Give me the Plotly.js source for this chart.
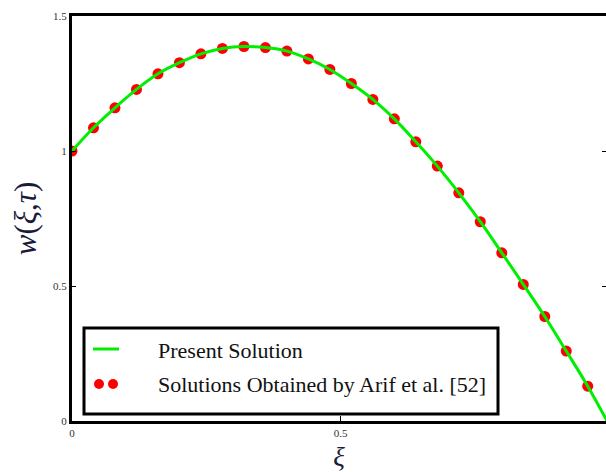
<!DOCTYPE html>
<html>
<head>
<meta charset="utf-8">
<script src="https://cdn.plot.ly/plotly-3.0.1.min.js"></script>
<style>html,body{margin:0;padding:0;background:#fff;}#chart{width:606px;height:472px;}</style>
</head>
<body>
<div id="chart"></div>
<script>
// Data
var pointX = [0, 0.04, 0.08, 0.12, 0.16, 0.20, 0.24, 0.28, 0.32, 0.36, 0.40, 0.44, 0.48, 0.52, 0.56, 0.60, 0.64, 0.68, 0.72, 0.76, 0.80, 0.84, 0.88, 0.92, 0.96];
var pointY = [1.000, 1.086, 1.160, 1.228, 1.286, 1.327, 1.360, 1.380, 1.387, 1.383, 1.370, 1.341, 1.302, 1.250, 1.191, 1.119, 1.034, 0.944, 0.845, 0.738, 0.623, 0.506, 0.387, 0.259, 0.129];
var lineX = [0, 0.04, 0.08, 0.12, 0.16, 0.20, 0.24, 0.28, 0.32, 0.36, 0.40, 0.44, 0.48, 0.52, 0.56, 0.60, 0.64, 0.68, 0.72, 0.76, 0.80, 0.84, 0.88, 0.92, 0.96, 0.996];
var lineY = [1.000, 1.086, 1.160, 1.228, 1.286, 1.327, 1.360, 1.380, 1.387, 1.383, 1.370, 1.341, 1.302, 1.250, 1.191, 1.119, 1.034, 0.944, 0.845, 0.738, 0.623, 0.506, 0.387, 0.259, 0.129, 0.0];
var seriesNames = ["Present Solution", "Solutions Obtained by Arif et al. [52]"];
var xTicks = [0, 0.5];
var xTickText = ["0", "0.5"];
var yTicks = [0, 0.5, 1, 1.5];
var yTickText = ["0", "0.5", "1", "1.5"];

var serif = "Liberation Serif, Times New Roman, serif";

var traces = [
  {x: pointX, y: pointY, type: "scatter", mode: "markers", name: seriesNames[1],
   marker: {color: "#ff0000", size: 11}, showlegend: false},
  {x: lineX, y: lineY, type: "scatter", mode: "lines", name: seriesNames[0],
   line: {color: "#00ee00", width: 3, shape: "spline"}, showlegend: false},
  {x: [0], y: [0], yaxis: "y2", type: "scatter", mode: "markers", marker: {opacity: 0}, hoverinfo: "skip", showlegend: false}
];

function px(v){ return (v - 72) / 534; }
function py(v){ return (421 - v) / 405; }

var layout = {
  width: 606, height: 472,
  margin: {l: 72, r: 0, t: 16, b: 51},
  paper_bgcolor: "#fff", plot_bgcolor: "#fff",
  showlegend: false,
  xaxis: {
    range: [0, 0.994], showgrid: false, zeroline: false,
    showline: true, linecolor: "#000", linewidth: 3, mirror: true,
    ticks: "inside", ticklen: 5, tickcolor: "#000", tickwidth: 1,
    tickvals: xTicks, ticktext: xTickText,
    tickfont: {family: serif, size: 11, color: "#333"},
    title: {text: "<i>ξ</i>", font: {family: serif, size: 27, color: "#1a1a3a"}, standoff: 12}
  },
  yaxis: {
    range: [0, 1.5], showgrid: false, zeroline: false,
    showline: true, linecolor: "#000", linewidth: 3,
    ticks: "inside", ticklen: 4, tickcolor: "#000", tickwidth: 1,
    tickvals: yTicks, ticktext: yTickText,
    tickfont: {family: serif, size: 11, color: "#333"},
    title: {text: "<i>w</i>(<i>ξ</i>,<i>τ</i>)", font: {family: serif, size: 31, color: "#1a1a3a"}, standoff: 8}
  },
  yaxis2: {
    overlaying: "y", side: "right", range: [0, 1.5], showgrid: false, zeroline: false,
    showline: false, ticks: "inside", ticklen: 4, tickcolor: "#000", tickwidth: 1,
    tickvals: [0.5, 1], showticklabels: false
  },
  shapes: [
    {type: "rect", xref: "paper", yref: "paper", x0: px(84), x1: px(498), y0: py(414), y1: py(328),
     line: {color: "#000", width: 3}, fillcolor: "#fff", layer: "above"},
    {type: "line", xref: "paper", yref: "paper", x0: px(93), x1: px(119), y0: py(349), y1: py(349),
     line: {color: "#00ee00", width: 3}, layer: "above"},
    {type: "circle", xref: "paper", yref: "paper", x0: px(94), x1: px(104), y0: py(389), y1: py(379),
     line: {width: 0}, fillcolor: "#ff0000", layer: "above"},
    {type: "circle", xref: "paper", yref: "paper", x0: px(108), x1: px(118), y0: py(389), y1: py(379),
     line: {width: 0}, fillcolor: "#ff0000", layer: "above"}
  ],
  annotations: [
    {xref: "paper", yref: "paper", x: px(156), y: py(350), xanchor: "left", yanchor: "middle",
     text: seriesNames[0], showarrow: false, font: {family: serif, size: 22, color: "#111"}},
    {xref: "paper", yref: "paper", x: px(156), y: py(384), xanchor: "left", yanchor: "middle",
     text: seriesNames[1], showarrow: false, font: {family: serif, size: 22, color: "#111"}}
  ]
};

Plotly.newPlot("chart", traces, layout, {displayModeBar: false, staticPlot: true});
</script>
</body>
</html>
